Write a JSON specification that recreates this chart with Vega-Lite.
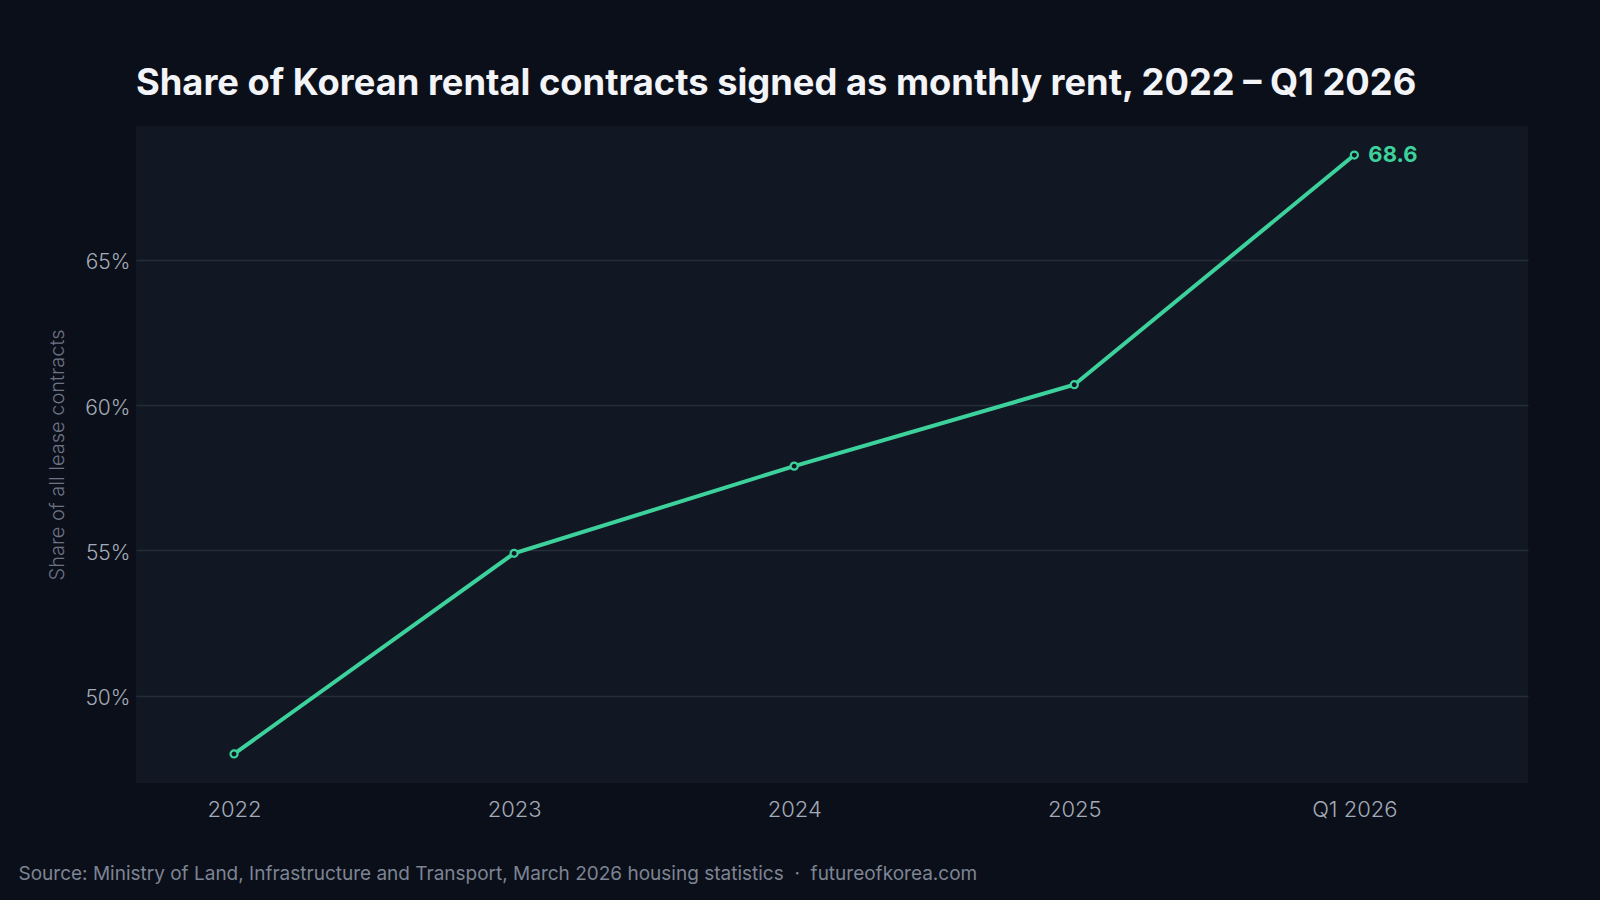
{
  "$schema": "https://vega.github.io/schema/vega-lite/v6.json",
  "width": 1392,
  "height": 657,
  "autosize": {"type": "none"},
  "padding": {"left": 136, "top": 126, "right": 72, "bottom": 117},
  "background": "#0b0f19",
  "title": {
    "text": "Share of Korean rental contracts signed as monthly rent, 2022 – Q1 2026",
    "anchor": "start",
    "frame": "group",
    "font": "Inter",
    "fontSize": 36.3,
    "fontWeight": 700,
    "color": "#f2f4f8",
    "baseline": "alphabetic",
    "offset": -5
  },
  "config": {
    "view": {"fill": "#111823", "stroke": null}
  },
  "data": {
    "values": [
      {"period": "2022", "i": 0, "share": 48.0},
      {"period": "2023", "i": 1, "share": 54.9},
      {"period": "2024", "i": 2, "share": 57.9},
      {"period": "2025", "i": 3, "share": 60.7},
      {"period": "Q1 2026", "i": 4, "share": 68.6}
    ]
  },
  "encoding": {
    "x": {
      "field": "i",
      "type": "quantitative",
      "scale": {"domain": [-0.35, 4.62], "nice": false, "zero": false},
      "axis": {
        "values": [0, 1, 2, 3, 4],
        "labelExpr": "['2022','2023','2024','2025','Q1 2026'][datum.value]",
        "grid": false,
        "domain": false,
        "ticks": false,
        "labelPadding": 16,
        "labelFont": "Inter",
        "labelFontSize": 22,
        "labelFontWeight": 300,
        "labelColor": "#a4abb8",
        "title": "Source: Ministry of Land, Infrastructure and Transport, March 2026 housing statistics \u00a0·\u00a0 futureofkorea.com",
        "titleAnchor": "start",
        "titleAlign": "left",
        "titleX": -118,
        "titleY": 96,
        "titleBaseline": "alphabetic",
        "titleFont": "Inter",
        "titleFontSize": 19,
        "titleFontWeight": 400,
        "titleColor": "#7d8494"
      }
    },
    "y": {
      "field": "share",
      "type": "quantitative",
      "scale": {"domain": [47, 69.6], "nice": false, "zero": false},
      "axis": {
        "values": [50, 55, 60, 65],
        "labelExpr": "datum.value + '%'",
        "grid": true,
        "gridColor": "#252c38",
        "gridWidth": 1.5,
        "domain": false,
        "ticks": false,
        "labelPadding": 6,
        "labelOffset": 3,
        "labelFont": "Inter",
        "labelFontSize": 21,
        "labelFontWeight": 300,
        "labelColor": "#a4abb8",
        "title": "Share of all lease contracts",
        "titleFont": "Inter",
        "titleFontSize": 20,
        "titleFontWeight": 300,
        "titleColor": "#6b7385",
        "titlePadding": 17
      }
    }
  },
  "layer": [
    {
      "mark": {"type": "line", "color": "#3dd29c", "strokeWidth": 4}
    },
    {
      "mark": {"type": "point", "filled": false, "fill": "#111823", "fillOpacity": 1, "stroke": "#3dd29c", "strokeWidth": 2.2, "size": 50, "opacity": 1}
    },
    {
      "transform": [{"filter": "datum.i == 4"}],
      "mark": {"type": "text", "align": "left", "baseline": "middle", "dx": 14, "font": "Inter", "fontSize": 22, "fontWeight": 700, "color": "#3dd29c"},
      "encoding": {"text": {"field": "share", "type": "quantitative", "format": ".1f"}}
    }
  ]
}
